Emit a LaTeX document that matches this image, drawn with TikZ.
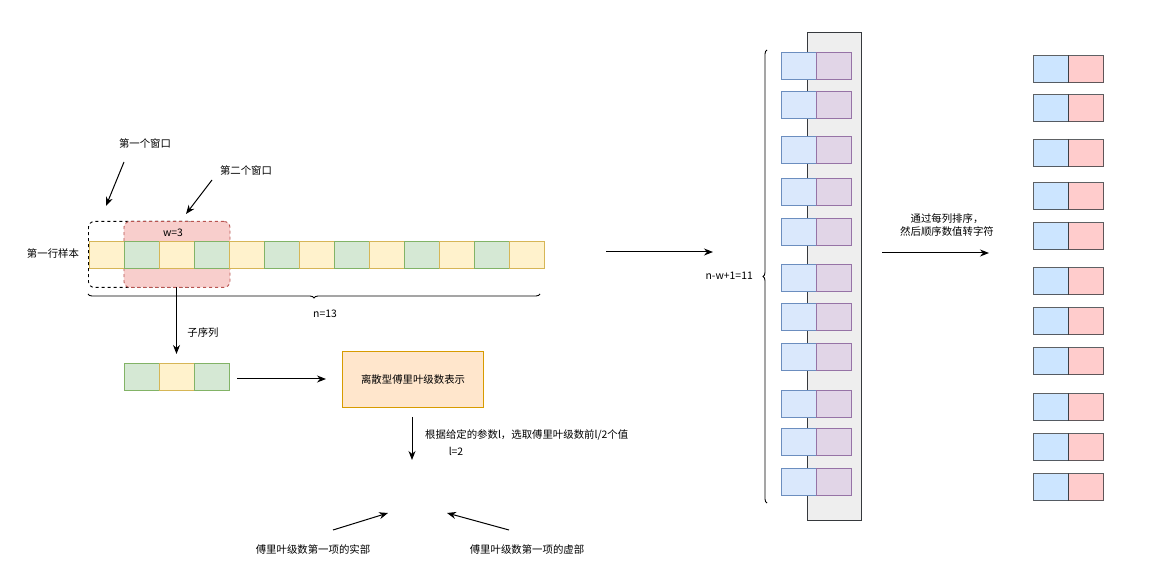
\documentclass[tikz,border=0pt]{standalone}
\usepackage{fontspec}
\setmainfont{Noto Sans CJK SC}
\usetikzlibrary{arrows.meta,decorations.pathreplacing}
\begin{document}
\begin{tikzpicture}[x=1pt,y=-1pt,
  every node/.style={font=\fontsize{10.4}{13}\selectfont, inner sep=0pt},
  cell/.style={draw, line width=1.2pt, minimum width=35pt, minimum height=27pt, anchor=north west},
  ycell/.style={cell, fill={rgb,255:red,255;green,242;blue,204}, draw={rgb,255:red,214;green,182;blue,86}},
  gcell/.style={cell, fill={rgb,255:red,213;green,232;blue,212}, draw={rgb,255:red,130;green,179;blue,102}},
  bcell/.style={cell, fill={rgb,255:red,218;green,232;blue,252}, draw={rgb,255:red,108;green,142;blue,191}},
  pcell/.style={cell, fill={rgb,255:red,225;green,213;blue,231}, draw={rgb,255:red,150;green,115;blue,166}},
  lbcell/.style={cell, line width=1.4pt, fill={rgb,255:red,204;green,229;blue,255}, draw={rgb,255:red,54;green,57;blue,61}, draw opacity=0.8},
  rcell/.style={cell, line width=1.4pt, fill={rgb,255:red,255;green,204;blue,204}, draw={rgb,255:red,54;green,57;blue,61}, draw opacity=0.8},
  arr/.style={draw, line width=1pt, -{Stealth[length=9pt,width=7pt]}},
  lbl/.style={align=center}
]
\useasboundingbox (0,0) rectangle (1171,569);
% windows
\node[draw, dashed, line width=0.9pt, rounded corners=6pt, minimum width=106pt, minimum height=66pt, anchor=north west] (win1) at (88,221) {};
\node[draw={rgb,255:red,184;green,84;blue,80}, fill={rgb,255:red,248;green,206;blue,204}, dashed, line width=0.9pt, rounded corners=6pt, minimum width=106pt, minimum height=66pt, anchor=north west] (win2) at (123.5,221) {};
\node (w) at (173,233) {w=3};
% sample row
\foreach \i in {0,...,12}{
  \pgfmathsetmacro{\xx}{89+35*\i}
  \ifodd\i
    \node[gcell] (s\i) at (\xx,241) {};
  \else
    \node[ycell] (s\i) at (\xx,241) {};
  \fi
}
\node (rowlbl) at (53,254) {第一行样本};
% window labels
\node (l1) at (145,144) {第一个窗口};
\node (l2) at (246,171) {第二个窗口};
\coordinate (a1s) at (124,162); \coordinate (a1e) at (106,206);
\coordinate (a2s) at (212,180); \coordinate (a2e) at (186,214);
\draw[arr] (a1s) -- (a1e);
\draw[arr] (a2s) -- (a2e);
% brace n=13
\coordinate (b1s) at (88,294); \coordinate (b1e) at (540,294);
\draw[line width=0.9pt, decorate, decoration={brace, mirror, amplitude=4pt}] (b1s) -- (b1e);
\node (n13) at (325,314) {n=13};
% subsequence
\coordinate (subarr) at (176.5,354);
\draw[arr] (176.5,287) -- (subarr);
\node (zxl) at (203,333) {子序列};
\node[gcell] (t0) at (124,363) {};
\node[ycell] (t1) at (159,363) {};
\node[gcell] (t2) at (194,363) {};
\node[draw={rgb,255:red,215;green,155;blue,0}, fill={rgb,255:red,255;green,230;blue,204}, line width=1.1pt, minimum width=141pt, minimum height=56pt, anchor=north west] (dft) at (342,351) {};
\node at (dft.center) {离散型傅里叶级数表示};
\coordinate (sa1) at (237,379); \coordinate (sa2) at (326,379);
\draw[arr] (sa1) -- (sa2);
\coordinate (da1) at (412,417); \coordinate (da2) at (412,460);
\draw[arr] (da1) -- (da2);
\node[anchor=west] (sel) at (425,435) {根据给定的参数l，选取傅里叶级数前l/2个值};
\node (l2v) at (456,451) {l=2};
% bottom
\coordinate (c1s) at (333,530); \coordinate (c1e) at (388,513);
\coordinate (c2s) at (509,530); \coordinate (c2e) at (447,513);
\draw[arr] (c1s) -- (c1e);
\draw[arr] (c2s) -- (c2e);
\node (re) at (313,550) {傅里叶级数第一项的实部};
\node (im) at (527,550) {傅里叶级数第一项的虚部};
% middle arrow
\coordinate (m1) at (606,252); \coordinate (m2) at (713,252);
\draw[arr] (m1) -- (m2);
% gray column
\node[draw={rgb,255:red,54;green,57;blue,61}, fill={rgb,255:red,238;green,238;blue,238}, line width=1pt, minimum width=54pt, minimum height=488pt, anchor=north west] (col) at (807,32) {};
\foreach \t [count=\k] in {52,91,136,178,218,264,303,343,390,428,468}{
  \node[bcell] (pb\k) at (781,\t) {};
  \node[pcell] (pp\k) at (816,\t) {};
}
\coordinate (b2s) at (767,503); \coordinate (b2e) at (767,50);
\draw[line width=0.9pt, decorate, decoration={brace, amplitude=4pt}] (b2s) -- (b2e);
\node[anchor=east] (nw) at (753,276) {n-w+1=11};
% right arrow
\coordinate (r1) at (882,253); \coordinate (r2) at (989,253);
\draw[arr] (r1) -- (r2);
\node[lbl] (sortlbl) at (947,225) {通过每列排序，\\然后顺序数值转字符};
\foreach \t [count=\k] in {55,94,139,182,222,267,307,347,393,433,473}{
  \node[lbcell] (qb\k) at (1033,\t) {};
  \node[rcell] (qr\k) at (1068,\t) {};
}
\end{tikzpicture}
\end{document}
